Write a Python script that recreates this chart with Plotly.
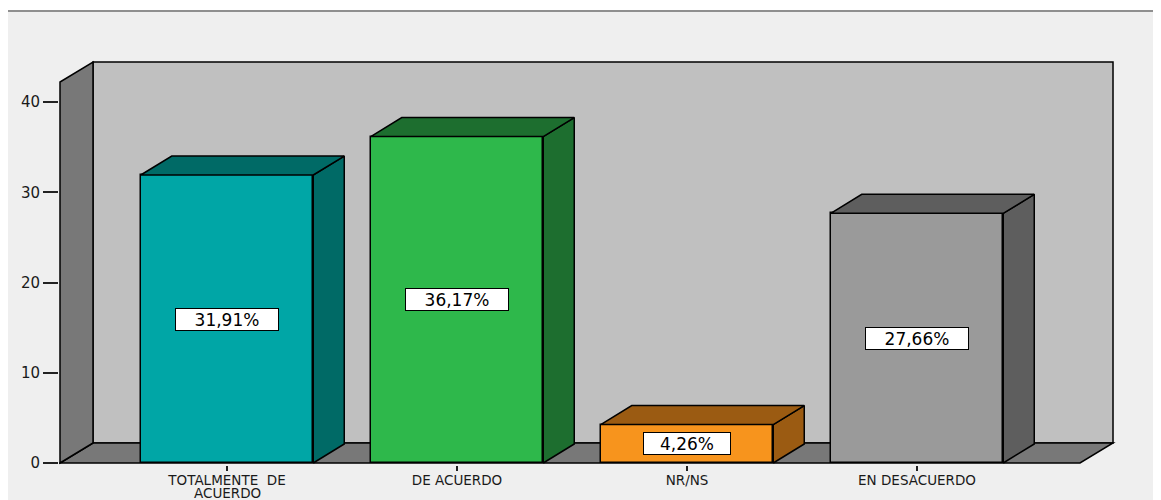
import plotly.graph_objects as go

# ---------------- data ----------------
categories = ["TOTALMENTE  DE<br>ACUERDO", "DE ACUERDO", "NR/NS", "EN DESACUERDO"]
values = [31.91, 36.17, 4.26, 27.66]
value_labels = ["31,91%", "36,17%", "4,26%", "27,66%"]
front_colors = ["#00a6a6", "#2eb84b", "#f7941d", "#9a9a9a"]
side_colors = ["#006a66", "#1d6e2f", "#9b5b12", "#5e5e5e"]
y_ticks = [0, 10, 20, 30, 40]

# ---------------- geometry / style ----------------
W, H = 1153, 492                  # page body has an 8px margin
L, R, T, B = 51, 45, 52, 35
XR = [-0.73043, 3.86522]
YR = [-0.2216, 44.654]
BAR_W = 0.75
BDX, BDY = 0.1348, 2.105          # bar depth offset (axis units)
WDX, WDY = 0.1435, 2.216          # wall depth offset
FX0, FX1 = -0.7261, 3.7087        # floor front edge extent
WTOP = 44.432                      # top of back wall
EDGE = dict(color="black", width=1.5)
FONT = "DejaVu Sans"

xs = list(range(len(categories)))
first_lines = [c.split("<br>")[0] for c in categories]
extra_lines = [c.split("<br>")[1:] for c in categories]

fig = go.Figure()

# front faces
fig.add_trace(go.Bar(
    x=xs, y=values, width=BAR_W,
    marker=dict(color=front_colors, line=EDGE),
    hoverinfo="skip", showlegend=False,
))

# side and top faces
for x, v, c in zip(xs, values, side_colors):
    x0, x1 = x - BAR_W / 2, x + BAR_W / 2
    side_x = [x1, x1 + BDX, x1 + BDX, x1, x1]
    side_y = [0, BDY, v + BDY, v, 0]
    top_x = [x0, x0 + BDX, x1 + BDX, x1, x0]
    top_y = [v, v + BDY, v + BDY, v, v]
    for px, py in ((side_x, side_y), (top_x, top_y)):
        fig.add_trace(go.Scatter(
            x=px, y=py, mode="lines", fill="toself", fillcolor=c,
            line=EDGE, hoverinfo="skip", showlegend=False,
        ))

# value labels
for x, v, t in zip(xs, values, value_labels):
    fig.add_annotation(
        x=x, y=v / 2, text=t, showarrow=False,
        font=dict(family=FONT, size=17, color="black"),
        bgcolor="white", bordercolor="black", borderwidth=1,
        borderpad=1, width=16 * len(t) + 4, height=19,
    )

# second lines of wrapped category labels
for x, lines in zip(xs, extra_lines):
    for k, ln in enumerate(lines):
        fig.add_annotation(
            x=x, xref="x", y=0, yref="paper", yanchor="middle",
            yshift=-28 - 13 * k, text=ln, showarrow=False,
            font=dict(family=FONT, size=13.5, color="#1a1a1a"),
        )

# walls and floor
def pth(pts):
    return "M " + " L ".join(f"{a},{b}" for a, b in pts) + " Z"

shapes = [
    dict(type="path", xref="x", yref="y", layer="below",
         path=pth([(FX0 + WDX, WDY), (FX1 + WDX, WDY), (FX1 + WDX, WTOP), (FX0 + WDX, WTOP)]),
         fillcolor="#c0c0c0", line=EDGE),
    dict(type="path", xref="x", yref="y", layer="below",
         path=pth([(FX0, 0), (FX0 + WDX, WDY), (FX1 + WDX, WDY), (FX1, 0)]),
         fillcolor="#787878", line=EDGE),
    dict(type="path", xref="x", yref="y", layer="below",
         path=pth([(FX0, 0), (FX0 + WDX, WDY), (FX0 + WDX, WTOP), (FX0, WTOP - WDY)]),
         fillcolor="#787878", line=EDGE),
]

# page frame: white strip at top and grey rule
pw, ph = W - L - R, H - T - B
def pxx(p):
    return (p - L) / pw
def pxy(p):
    return (H - B - p) / ph

shapes += [
    dict(type="rect", xref="paper", yref="paper", layer="below",
         x0=pxx(0), x1=pxx(W), y0=pxy(0), y1=pxy(2), fillcolor="white", line=dict(width=0)),
    dict(type="line", xref="paper", yref="paper", layer="below",
         x0=pxx(0), x1=pxx(W), y0=pxy(3), y1=pxy(3), line=dict(color="#8f8f8f", width=2)),
]

fig.update_layout(
    width=W, height=H, autosize=False,
    margin=dict(l=L, r=R, t=T, b=B, pad=0, autoexpand=False),
    paper_bgcolor="#efefef", plot_bgcolor="rgba(0,0,0,0)",
    shapes=shapes, bargap=0, showlegend=False,
    xaxis=dict(
        range=XR, tickmode="array", tickvals=xs, ticktext=first_lines,
        ticks="outside", ticklen=5, tickwidth=1.5, tickcolor="#222",
        ticklabelstandoff=-2,
        showgrid=False, zeroline=False, showline=False, automargin=False,
        tickfont=dict(family=FONT, size=13.5, color="#1a1a1a"),
        fixedrange=True,
    ),
    yaxis=dict(
        range=YR, tickmode="array", tickvals=y_ticks,
        ticks="outside", ticklen=15, tickwidth=1.5, tickcolor="#222",
        showgrid=False, zeroline=False, showline=False, automargin=False,
        tickfont=dict(family=FONT, size=15, color="#1a1a1a"),
        fixedrange=True,
    ),
)

fig.write_html("out.html", config={"displayModeBar": False})
